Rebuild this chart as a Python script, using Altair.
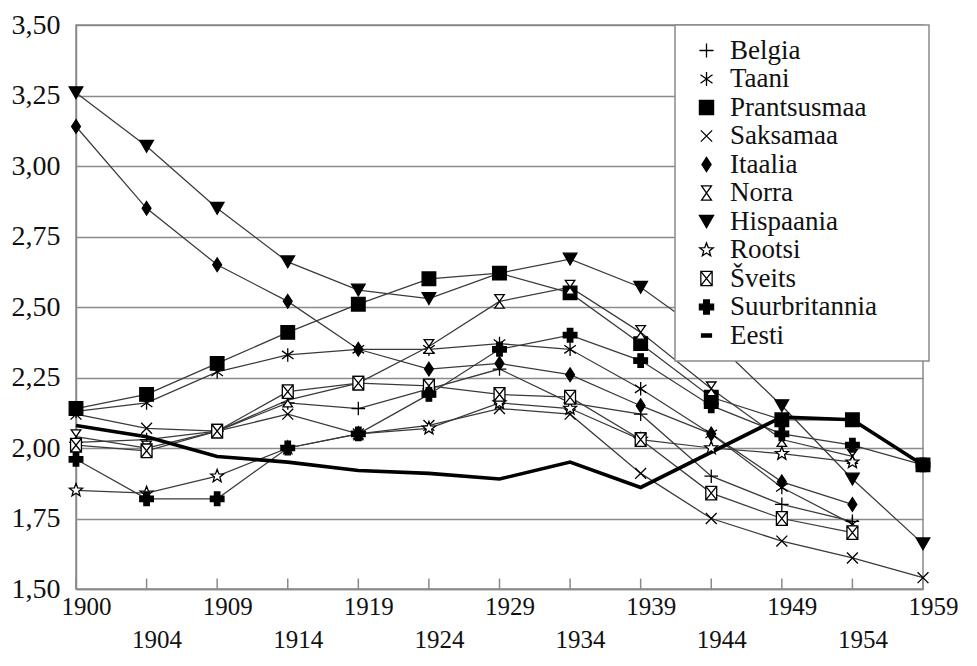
import math
import altair as alt
import pandas as pd

years = [1900, 1904, 1909, 1914, 1919, 1924, 1929, 1934, 1939, 1944, 1949, 1954, 1959]
countries = ["Belgia", "Taani", "Prantsusmaa", "Saksamaa", "Itaalia", "Norra",
             "Hispaania", "Rootsi", "Šveits", "Suurbritannia", "Eesti"]

belgia = [2.02, 2.03, 2.06, 2.16, 2.14, 2.21, 2.28, 2.16, 2.12, 1.90, 1.80, 1.74, None]
taani = [2.13, 2.16, 2.27, 2.33, 2.35, 2.35, 2.37, 2.35, 2.21, 2.05, 1.86, 1.73, None]
prantsusmaa = [2.14, 2.19, 2.30, 2.41, 2.51, 2.60, 2.62, 2.55, 2.37, 2.18, 2.10, 2.10, 1.94]
saksamaa = [2.12, 2.07, 2.06, 2.12, 2.05, 2.08, 2.14, 2.12, 1.91, 1.75, 1.67, 1.61, 1.54]
itaalia = [3.14, 2.85, 2.65, 2.52, 2.35, 2.28, 2.30, 2.26, 2.15, 2.05, 1.88, 1.80, None]
norra = [2.04, 2.00, 2.06, 2.17, 2.23, 2.36, 2.52, 2.57, 2.41, 2.21, 2.03, 1.97, None]
hispaania = [3.26, 3.07, 2.85, 2.66, 2.56, 2.53, 2.62, 2.67, 2.57, 2.39, 2.15, 1.89, 1.66]
rootsi = [1.85, 1.84, 1.90, 2.00, 2.05, 2.07, 2.16, 2.14, 2.03, 2.00, 1.98, 1.95, None]
sveits = [2.01, 1.99, 2.06, 2.20, 2.23, 2.22, 2.19, 2.18, 2.03, 1.84, 1.75, 1.70, None]
suurbritannia = [1.96, 1.82, 1.82, 2.00, 2.05, 2.19, 2.35, 2.40, 2.31, 2.15, 2.05, 2.01, 1.94]
eesti = [2.08, 2.04, 1.97, 1.95, 1.92, 1.91, 1.89, 1.95, 1.86, None, 2.11, 2.10, 1.94]

series = [belgia, taani, prantsusmaa, saksamaa, itaalia, norra,
          hispaania, rootsi, sveits, suurbritannia, eesti]

rows = []
for name, vals in zip(countries, series):
    for yr, v in zip(years, vals):
        if v is not None:
            rows.append({"aasta": yr, "riik": name, "v": v})
df = pd.DataFrame(rows)
ticks_df = pd.DataFrame({"aasta": years})

# marker shapes
star_pts = []
for i in range(10):
    r = 1.0 if i % 2 == 0 else 0.42
    a = -math.pi / 2 + i * math.pi / 5
    star_pts.append(f"{r*math.cos(a):.3f},{r*math.sin(a):.3f}")
star = "M" + "L".join(star_pts) + "Z"

shapes = [
    "M-1,0H1M0,-1V1",                                          # Belgia +
    "M0,-1V1M-0.85,-0.6L0.85,0.6M-0.85,0.6L0.85,-0.6",         # Taani *
    "square",                                                  # Prantsusmaa
    "M-0.8,-0.8L0.8,0.8M-0.8,0.8L0.8,-0.8",                    # Saksamaa x
    "M0,-1L0.65,0L0,1L-0.65,0Z",                               # Itaalia diamond
    "M-0.7,-1H0.7L-0.7,1H0.7Z",                                # Norra hourglass
    "triangle-down",                                           # Hispaania
    star,                                                      # Rootsi
    "M-0.8,-1H0.8V1H-0.8ZM-0.8,-1L0.8,1M-0.8,1L0.8,-1",        # Šveits
    "cross",                                                   # Suurbritannia
    "M-0.7,-0.22H0.7V0.22H-0.7Z",                              # Eesti
]
fills = ["transparent", "transparent", "black", "transparent", "black", "white",
         "black", "white", "white", "black", "black"]
strokes = ["black"] * len(countries)

FONT = "Liberation Serif"
GRID = "#8a8a8a"

x_enc = alt.X(
    "aasta:O",
    scale=alt.Scale(type="point", padding=0),
    axis=alt.Axis(
        title=None, domainColor=GRID, domainWidth=1.5, ticks=False,
        labelAngle=0, labelFont=FONT, labelFontSize=25, labelColor="#111",
        labelBaseline="top", labelPadding=5, labelLineHeight=33, labelOffset=10,
        labelExpr="toNumber(datum.value) % 10 == 4 ? ['', datum.label] : [datum.label, '']",
        grid=False,
    ),
)
y_scale = alt.Scale(domain=[1.5, 3.5], nice=False, zero=False)
y_axis = alt.Axis(
    title=None, values=[1.5, 1.75, 2.0, 2.25, 2.5, 2.75, 3.0, 3.25, 3.5],
    labelExpr="replace(format(datum.value, '.2f'), '.', ',')",
    labelFont=FONT, labelFontSize=28, labelColor="#111", labelPadding=16,
    ticks=False, domainColor=GRID, domainWidth=1.5,
    grid=True, gridColor=GRID, gridWidth=1.5,
)

legend = alt.Legend(
    title=" ",
    titleOrient="right",
    titlePadding=40,
    titleFontSize=1,
    symbolStrokeColor="black",
    labelFont=FONT,
    labelFontSize=27,
)

lines = alt.Chart(df).mark_line().encode(
    x=x_enc,
    y=alt.Y("v:Q", scale=y_scale, axis=y_axis),
    detail="riik:N",
    color=alt.condition(alt.datum.riik == "Eesti", alt.value("black"), alt.value("#3a3a3a")),
    strokeWidth=alt.condition(alt.datum.riik == "Eesti", alt.value(3.6), alt.value(1.25)),
)

points = alt.Chart(df).mark_point(filled=False, strokeWidth=1.3, opacity=1).encode(
    x=x_enc,
    y=alt.Y("v:Q", scale=y_scale),
    shape=alt.Shape("riik:N", scale=alt.Scale(domain=countries, range=shapes),
                    legend=legend),
    fill=alt.Fill("riik:N", scale=alt.Scale(domain=countries, range=fills),
                  legend=legend),
    stroke=alt.Stroke("riik:N", scale=alt.Scale(domain=countries, range=strokes),
                      legend=legend),
    size=alt.condition(alt.datum.riik == "Eesti", alt.value(0), alt.value(185)),
)

ticks = alt.Chart(ticks_df).mark_rule(color=GRID, strokeWidth=1.5).encode(
    x=alt.X("aasta:O", scale=alt.Scale(type="point", padding=0)),
    y=alt.datum(1.5),
    y2=alt.datum(1.537),
)

chart = alt.layer(lines, ticks, points).properties(
    width=847, height=564,
    autosize=alt.AutoSizeParams(type="none"),
    padding={"left": 68, "top": 17, "right": 46, "bottom": 69},
).configure(
    font=FONT,
).configure_view(
    stroke=GRID, strokeWidth=1.5,
).configure_legend(
    orient="none", legendX=599, legendY=0,
    labelFont=FONT, labelFontSize=27, labelColor="#111",
    symbolSize=200, symbolStrokeWidth=1.3,
    symbolOffset=6, labelOffset=10, rowPadding=0.5, padding=12,
    strokeColor=GRID, strokeWidth=1.5, fillColor="white",
)

chart.save("out.html", embed_options={"renderer": "svg", "actions": False})
